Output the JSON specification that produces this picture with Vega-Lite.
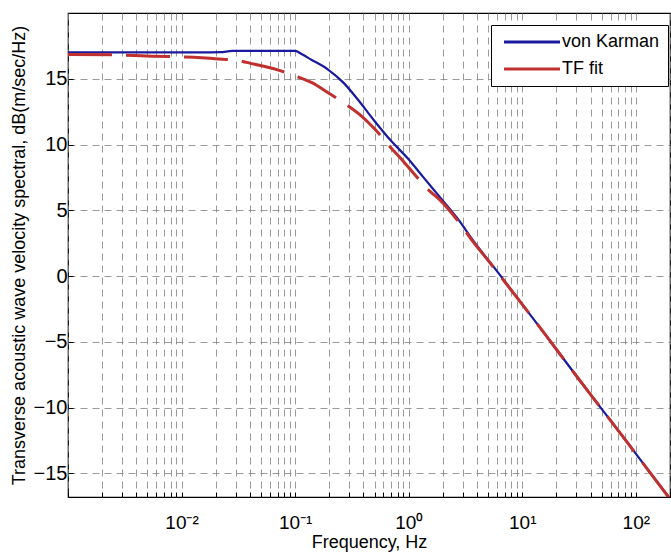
{
  "$schema": "https://vega.github.io/schema/vega-lite/v6.json",
  "width": 602,
  "height": 484,
  "autosize": "none",
  "padding": {"left": 68, "top": 13, "right": 1, "bottom": 56},
  "background": "white",
  "config": {
    "font": "Liberation Sans",
    "view": {"stroke": "black", "strokeWidth": 1.2},
    "axis": {
      "domain": false,
      "grid": true,
      "gridDash": [7, 5],
      "gridColor": "#808080",
      "gridWidth": 0.8,
      "tickColor": "black",
      "tickSize": -5,
      "tickWidth": 1,
      "labelColor": "black",
      "titleColor": "black",
      "labelFont": "Liberation Sans",
      "titleFont": "Liberation Sans",
      "labelFontSize": 20,
      "titleFontSize": 18,
      "titleFontWeight": "normal",
      "labelFlush": false,
      "labelOverlap": false
    }
  },
  "datasets": {
    "curves": [
      {"f": 0.001, "db": 17.0, "series": "von Karman"},
      {"f": 0.005, "db": 17.0, "series": "von Karman"},
      {"f": 0.015, "db": 17.0, "series": "von Karman"},
      {"f": 0.022, "db": 17.02, "series": "von Karman"},
      {"f": 0.028, "db": 17.12, "series": "von Karman"},
      {"f": 0.05, "db": 17.12, "series": "von Karman"},
      {"f": 0.1, "db": 17.12, "series": "von Karman"},
      {"f": 0.115, "db": 16.86, "series": "von Karman"},
      {"f": 0.139, "db": 16.45, "series": "von Karman"},
      {"f": 0.195, "db": 15.7, "series": "von Karman"},
      {"f": 0.27, "db": 14.65, "series": "von Karman"},
      {"f": 0.358, "db": 13.4, "series": "von Karman"},
      {"f": 0.494, "db": 11.85, "series": "von Karman"},
      {"f": 0.696, "db": 10.3, "series": "von Karman"},
      {"f": 0.98, "db": 8.95, "series": "von Karman"},
      {"f": 1.35, "db": 7.5, "series": "von Karman"},
      {"f": 1.9, "db": 5.96, "series": "von Karman"},
      {"f": 2.68, "db": 4.4, "series": "von Karman"},
      {"f": 3.7, "db": 2.7, "series": "von Karman"},
      {"f": 5.2, "db": 1.05, "series": "von Karman"},
      {"f": 6.4, "db": 0.05, "series": "von Karman"},
      {"f": 10, "db": -2.15, "series": "von Karman"},
      {"f": 16.6, "db": -4.65, "series": "von Karman"},
      {"f": 30, "db": -7.6, "series": "von Karman"},
      {"f": 49, "db": -10.0, "series": "von Karman"},
      {"f": 80, "db": -12.4, "series": "von Karman"},
      {"f": 135, "db": -15.0, "series": "von Karman"},
      {"f": 200, "db": -16.95, "series": "von Karman"},
      {"f": 0.001, "db": 16.85, "series": "TF fit"},
      {"f": 0.003, "db": 16.8, "series": "TF fit"},
      {"f": 0.0055, "db": 16.72, "series": "TF fit"},
      {"f": 0.0151, "db": 16.6, "series": "TF fit"},
      {"f": 0.0197, "db": 16.52, "series": "TF fit"},
      {"f": 0.0306, "db": 16.4, "series": "TF fit"},
      {"f": 0.0431, "db": 16.12, "series": "TF fit"},
      {"f": 0.07, "db": 15.68, "series": "TF fit"},
      {"f": 0.1, "db": 15.22, "series": "TF fit"},
      {"f": 0.139, "db": 14.72, "series": "TF fit"},
      {"f": 0.2, "db": 13.88, "series": "TF fit"},
      {"f": 0.292, "db": 12.95, "series": "TF fit"},
      {"f": 0.38, "db": 12.2, "series": "TF fit"},
      {"f": 0.5, "db": 11.2, "series": "TF fit"},
      {"f": 0.696, "db": 9.76, "series": "TF fit"},
      {"f": 0.887, "db": 8.77, "series": "TF fit"},
      {"f": 1.2, "db": 7.45, "series": "TF fit"},
      {"f": 1.56, "db": 6.4, "series": "TF fit"},
      {"f": 1.9, "db": 5.75, "series": "TF fit"},
      {"f": 2.68, "db": 4.25, "series": "TF fit"},
      {"f": 3.7, "db": 2.6, "series": "TF fit"},
      {"f": 5.2, "db": 1.0, "series": "TF fit"},
      {"f": 6.4, "db": 0.0, "series": "TF fit"},
      {"f": 10, "db": -2.15, "series": "TF fit"},
      {"f": 16.6, "db": -4.65, "series": "TF fit"},
      {"f": 30, "db": -7.6, "series": "TF fit"},
      {"f": 49, "db": -10.0, "series": "TF fit"},
      {"f": 80, "db": -12.4, "series": "TF fit"},
      {"f": 135, "db": -15.0, "series": "TF fit"},
      {"f": 200, "db": -16.95, "series": "TF fit"}
    ]
  },
  "data": {"name": "curves"},
  "encoding": {
    "x": {
      "field": "f",
      "type": "quantitative",
      "scale": {"type": "log", "domain": [0.001, 200], "nice": false},
      "axis": {
        "title": "Frequency, Hz",
        "values": [0.001, 0.002, 0.003, 0.004, 0.005, 0.006, 0.007, 0.008, 0.009,
                   0.01, 0.02, 0.03, 0.04, 0.05, 0.06, 0.07, 0.08, 0.09,
                   0.1, 0.2, 0.3, 0.4, 0.5, 0.6, 0.7, 0.8, 0.9,
                   1, 2, 3, 4, 5, 6, 7, 8, 9,
                   10, 20, 30, 40, 50, 60, 70, 80, 90,
                   100, 200],
        "labelExpr": "datum.value == 0.01 ? '10⁻²' : datum.value == 0.1 ? '10⁻¹' : datum.value == 1 ? '10⁰' : datum.value == 10 ? '10¹' : datum.value == 100 ? '10²' : ''",
        "labelFontSize": 19,
        "labelPadding": 21,
        "titlePadding": 1
      }
    },
    "y": {
      "field": "db",
      "type": "quantitative",
      "scale": {"domain": [-16.8, 20], "nice": false, "zero": false},
      "axis": {
        "title": "Transverse acoustic wave velocity spectral, dB(m/sec/Hz)",
        "values": [-15, -10, -5, 0, 5, 10, 15],
        "labelPadding": 6,
        "titlePadding": 5
      }
    },
    "color": {
      "field": "series",
      "type": "nominal",
      "scale": {"domain": ["von Karman", "TF fit"], "range": ["#1a1a9e", "#c0302e"]},
      "legend": {
        "title": null,
        "orient": "none",
        "legendX": 423,
        "legendY": 12,
        "fillColor": "white",
        "strokeColor": "black",
        "padding": 8,
        "symbolType": "M-4,0H4",
        "symbolSize": 196,
        "symbolOffset": 24,
        "symbolStrokeWidth": 3,
        "symbolDash": [],
        "labelFontSize": 18,
        "labelFont": "Liberation Sans",
        "labelColor": "black",
        "labelOffset": 21,
        "rowPadding": 9
      }
    }
  },
  "layer": [
    {
      "transform": [{"filter": "datum.series == 'von Karman'"}],
      "mark": {"type": "line", "strokeWidth": 2.2, "clip": true, "interpolate": "monotone"}
    },
    {
      "transform": [{"filter": "datum.series == 'TF fit'"}],
      "mark": {"type": "line", "strokeWidth": 3, "strokeDash": [44, 14], "clip": true, "interpolate": "monotone"}
    }
  ]
}
